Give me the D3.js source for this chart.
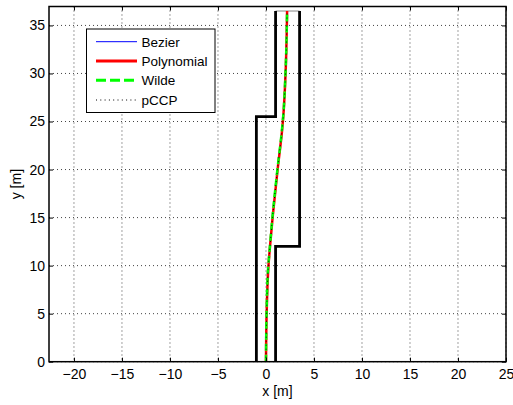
<!DOCTYPE html>
<html><head><meta charset="utf-8">
<script src="https://cdn.jsdelivr.net/npm/d3@7"></script>
<style>body{margin:0;background:#fff;} svg{display:block;} text{font-family:"Liberation Sans",Arial,sans-serif;}</style>
</head><body>
<svg id="c" width="513" height="405"></svg>
<script>
const xTicks = [-20,-15,-10,-5,0,5,10,15,20,25];
const yTicks = [0,5,10,15,20,25,30,35];
// road boundary (left and right)
const leftBoundX = [-1,-1,1,1];
const leftBoundY = [0,25.5,25.5,36.5];
const rightBoundX = [1,1,3.5,3.5];
const rightBoundY = [0,12,12,36.5];
const topEdgeX = [1,3.5];
const topEdgeY = [36.5,36.5];
// paths
const pathY = [0,5,10,12,15,20,24,25.5,30,36.5];
const bezierX = [0,0.07,0.25,0.42,0.68,1.2,1.65,1.8,2.03,2.2];
const polyX = [0,0.07,0.26,0.42,0.69,1.21,1.67,1.8,2.04,2.2];
const wildeX = [0,0.06,0.24,0.41,0.67,1.19,1.65,1.79,2.03,2.2];
const pccpX = [0,0.07,0.25,0.42,0.68,1.2,1.66,1.8,2.03,2.2];
const legendLabels = ["Bezier","Polynomial","Wilde","pCCP"];

const svg = d3.select("#c");
const L=49, R=506, T=6.5, B=361.7;
const x = d3.scaleLinear().domain([-22.6,25]).range([L,R]);
const y = d3.scaleLinear().domain([0,36.97]).range([B,T]);

// grid
const g = svg.append("g");
g.selectAll(".gx").data(xTicks).enter().append("line")
 .attr("x1",d=>x(d)).attr("x2",d=>x(d)).attr("y1",T).attr("y2",B)
 .attr("stroke","#444").attr("stroke-width",1).attr("stroke-dasharray","1,3");
g.selectAll(".gy").data(yTicks).enter().append("line")
 .attr("y1",d=>y(d)).attr("y2",d=>y(d)).attr("x1",L).attr("x2",R)
 .attr("stroke","#444").attr("stroke-width",1).attr("stroke-dasharray","1,3");

const line = d3.line().x(d=>x(d[0])).y(d=>y(d[1]));
const zip = (a,b)=>a.map((v,i)=>[v,b[i]]);

// road boundaries
svg.append("path").attr("d",line(zip(topEdgeX,topEdgeY))).attr("fill","none").attr("stroke","#888").attr("stroke-width",1);
svg.append("path").attr("d",line(zip(leftBoundX,leftBoundY))).attr("fill","none").attr("stroke","#000").attr("stroke-width",2.8);
svg.append("path").attr("d",line(zip(rightBoundX,rightBoundY))).attr("fill","none").attr("stroke","#000").attr("stroke-width",2.8);

const curve = d3.line().x(d=>x(d[0])).y(d=>y(d[1])).curve(d3.curveMonotoneY);
svg.append("path").attr("d",curve(zip(bezierX,pathY))).attr("fill","none").attr("stroke","#0000ff").attr("stroke-width",1);
svg.append("path").attr("d",curve(zip(polyX,pathY))).attr("fill","none").attr("stroke","#ff0000").attr("stroke-width",2.5);
svg.append("path").attr("d",curve(zip(wildeX,pathY))).attr("fill","none").attr("stroke","#00ff00").attr("stroke-width",2.5).attr("stroke-dasharray","7,4");
svg.append("path").attr("d",curve(zip(pccpX,pathY))).attr("fill","none").attr("stroke","#000").attr("stroke-width",1).attr("stroke-dasharray","1,3");

// axes frame
svg.append("rect").attr("x",L).attr("y",T).attr("width",R-L).attr("height",B-T).attr("fill","none").attr("stroke","#000").attr("stroke-width",1.5);

// ticks
const xb = d3.axisBottom(x).tickValues(xTicks).tickSizeInner(-4).tickSizeOuter(0).tickPadding(7).tickFormat(d=>d<0?"\u2212"+(-d):d);
const xt = d3.axisTop(x).tickValues(xTicks).tickSizeInner(-4).tickSizeOuter(0).tickFormat("");
const yl = d3.axisLeft(y).tickValues(yTicks).tickSizeInner(-4).tickSizeOuter(0).tickPadding(4);
const yr = d3.axisRight(y).tickValues(yTicks).tickSizeInner(-4).tickSizeOuter(0).tickFormat("");
function style(a){a.select(".domain").remove();a.selectAll("line").attr("stroke","#000");a.selectAll("text").attr("font-size",14).attr("fill","#000").attr("font-family","'Liberation Sans',Arial,sans-serif");}
svg.append("g").attr("transform",`translate(0,${B})`).call(xb).call(style);
svg.append("g").attr("transform",`translate(0,${T})`).call(xt).call(style);
svg.append("g").attr("transform",`translate(${L},0)`).call(yl).call(style);
svg.append("g").attr("transform",`translate(${R},0)`).call(yr).call(style);

svg.append("text").attr("x",(L+R)/2).attr("y",396).attr("text-anchor","middle").attr("font-size",14).text("x [m]");
svg.append("text").attr("transform",`translate(21,${(T+B)/2}) rotate(-90)`).attr("text-anchor","middle").attr("font-size",14).text("y [m]");

// legend
const lg = svg.append("g");
lg.append("rect").attr("x",86.5).attr("y",29).attr("width",128.5).attr("height",83.5).attr("fill","#fff").attr("stroke","#000").attr("stroke-width",1);
const styles = [
 {c:"#0000ff",w:1,d:null},
 {c:"#ff0000",w:3,d:null},
 {c:"#00ff00",w:3,d:"10,4"},
 {c:"#000",w:1,d:"1,3.3"}];
const ly = [41.7,61,80.3,100];
legendLabels.forEach((lab,i)=>{
  const ln = lg.append("line").attr("x1",96).attr("x2",137).attr("y1",ly[i]).attr("y2",ly[i]).attr("stroke",styles[i].c).attr("stroke-width",styles[i].w);
  if(styles[i].d) ln.attr("stroke-dasharray",styles[i].d);
  lg.append("text").attr("x",141.5).attr("y",ly[i]+5).attr("font-size",13.5).text(lab);
});
</script>
</body></html>
